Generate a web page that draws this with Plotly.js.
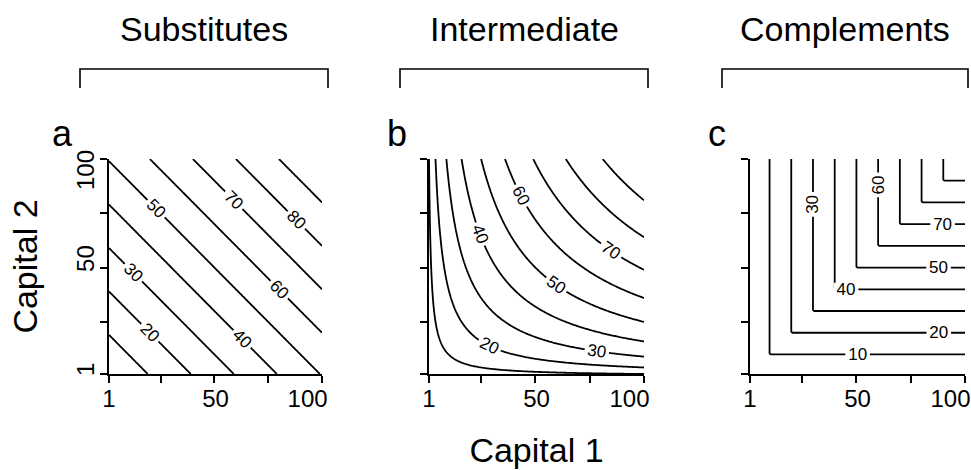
<!DOCTYPE html>
<html>
<head>
<meta charset="utf-8">
<script src="https://cdn.plot.ly/plotly-3.0.1.min.js"></script>
<style>html,body{margin:0;padding:0;background:#fff}#chart{width:971px;height:470px}</style>
</head>
<body>
<div id="chart"></div>
<script>
// ---- chart content ----
const panelTitles = ['Substitutes', 'Intermediate', 'Complements'];
const panelLetters = ['a', 'b', 'c'];
const contourLevels = [10, 20, 30, 40, 50, 60, 70, 80, 90];
const tickValues = [1, 25, 50, 75, 100];
const tickLabels = ['1', '50', '100'];
const capitalRange = [1, 100];
const xTitle = 'Capital 1';
const yTitle = 'Capital 2';

// output as a function of the two capitals, one per panel
const productionFunctions = [
  (k1, k2) => (k1 + k2) / 2,        // substitutes (linear)
  (k1, k2) => Math.sqrt(k1 * k2),   // intermediate (Cobb-Douglas)
  (k1, k2) => Math.min(k1, k2)      // complements (Leontief)
];

// evaluation grid for the contour surfaces
const capitalGrid = [];
for (let k = capitalRange[0]; k <= capitalRange[1] + 1e-9; k += 0.5) capitalGrid.push(k);

const FONT = '"Liberation Sans", Arial, Helvetica, sans-serif';

const traces = productionFunctions.map((f, i) => {
  const z = capitalGrid.map(k2 => capitalGrid.map(k1 => f(k1, k2)));
  return {
    type: 'contour',
    x: capitalGrid, y: capitalGrid, z: z,
    xaxis: i === 0 ? 'x' : 'x' + (i + 1),
    yaxis: i === 0 ? 'y' : 'y' + (i + 1),
    autocontour: false,
    contours: {
      coloring: 'none',
      start: contourLevels[0],
      end: contourLevels[contourLevels.length - 1],
      size: contourLevels[1] - contourLevels[0],
      showlabels: true,
      labelfont: {family: FONT, size: 17, color: 'black'}
    },
    line: {color: 'black', width: 1.8, smoothing: 0},
    showscale: false,
    hoverinfo: 'skip'
  };
});
// empty traces so that the tick-label axes are drawn
traces.push({type: 'scatter', x: [], y: [], xaxis: 'x4', yaxis: 'y', hoverinfo: 'skip', showlegend: false});
traces.push({type: 'scatter', x: [], y: [], xaxis: 'x5', yaxis: 'y2', hoverinfo: 'skip', showlegend: false});
traces.push({type: 'scatter', x: [], y: [], xaxis: 'x6', yaxis: 'y3', hoverinfo: 'skip', showlegend: false});
traces.push({type: 'scatter', x: [], y: [], xaxis: 'x', yaxis: 'y4', hoverinfo: 'skip', showlegend: false});

// ---- layout geometry (pixels in the 971x470 figure) ----
const W = 971, H = 470;
const panelX = [[109, 322], [429, 644], [750, 965]];
const panelY = [159, 374];
const bracketX = [[80, 328], [400, 648], [722, 968]];
// where the tick labels sit along each axis (the "100" label is pulled inside, as in the original)
const xLabelAt = [1, 50.5, 93.3];
const yLabelAt = [1.5, 52.5, 93.3];

function tickAxis(domain) {
  return {
    domain: domain,
    range: capitalRange,
    showline: true, linecolor: 'black', linewidth: 2,
    ticks: 'outside', ticklen: 7, tickwidth: 2, tickcolor: 'black',
    tickmode: 'array', tickvals: tickValues,
    showticklabels: false,
    showgrid: false, zeroline: false, fixedrange: true
  };
}
function labelAxis(over, anchor, side, at, isY) {
  const a = {
    overlaying: over, anchor: anchor, side: side,
    range: capitalRange,
    showline: false, ticks: '',
    tickmode: 'array', tickvals: at, ticktext: tickLabels,
    tickfont: {family: FONT, size: 24, color: 'black'},
    ticklabeloverflow: 'allow',
    showgrid: false, zeroline: false, fixedrange: true
  };
  if (isY) { a.tickangle = -90; a.ticklabelstandoff = 9; }
  else { a.ticklabelstandoff = 8; }
  return a;
}

const layout = {
  width: W, height: H,
  margin: {l: 0, r: 0, t: 0, b: 0},
  paper_bgcolor: 'white', plot_bgcolor: 'white',
  showlegend: false,
  font: {family: FONT, color: 'black'},
  annotations: [],
  shapes: []
};

const yDomain = [1 - panelY[1] / H, 1 - panelY[0] / H];
panelTitles.forEach((t, i) => {
  const sfx = i === 0 ? '' : String(i + 1);
  const xa = tickAxis([panelX[i][0] / W, panelX[i][1] / W]);
  const ya = tickAxis(yDomain);
  xa.anchor = 'y' + sfx;
  ya.anchor = 'x' + sfx;
  layout['xaxis' + sfx] = xa;
  layout['yaxis' + sfx] = ya;

  // tick-label axis for Capital 1 in every panel
  const lx = labelAxis('x' + sfx, 'y' + sfx, 'bottom', xLabelAt, false);
  if (i === 1) lx.title = {text: xTitle, font: {family: FONT, size: 34, color: 'black'}, standoff: 27};
  layout['xaxis' + (i + 4)] = lx;

  const bx0 = bracketX[i][0] / W, bx1 = bracketX[i][1] / W;
  layout.annotations.push({
    text: t, xref: 'paper', yref: 'paper',
    x: (bx0 + bx1) / 2, y: 1 - 50 / H, xanchor: 'center', yanchor: 'bottom',
    showarrow: false, font: {family: FONT, size: 34, color: 'black'}
  });
  layout.annotations.push({
    text: panelLetters[i], xref: 'paper', yref: 'paper',
    x: [50, 385, 706][i] / W, y: 1 - 156 / H, xanchor: 'left', yanchor: 'bottom',
    showarrow: false, font: {family: FONT, size: 36, color: 'black'}
  });
  const top = 1 - 69 / H, bot = 1 - 88 / H;
  layout.shapes.push({
    type: 'path', xref: 'paper', yref: 'paper',
    path: `M ${bx0} ${bot} L ${bx0} ${top} L ${bx1} ${top} L ${bx1} ${bot}`,
    line: {color: 'black', width: 1.6}
  });
});
// tick-label axis for Capital 2 (left panel only)
const ly = labelAxis('y', 'x', 'left', yLabelAt, true);
ly.title = {text: yTitle, font: {family: FONT, size: 34, color: 'black'}, standoff: 24};
layout.yaxis4 = ly;

Plotly.newPlot('chart', traces, layout, {staticPlot: true, displayModeBar: false});
</script>
</body>
</html>
